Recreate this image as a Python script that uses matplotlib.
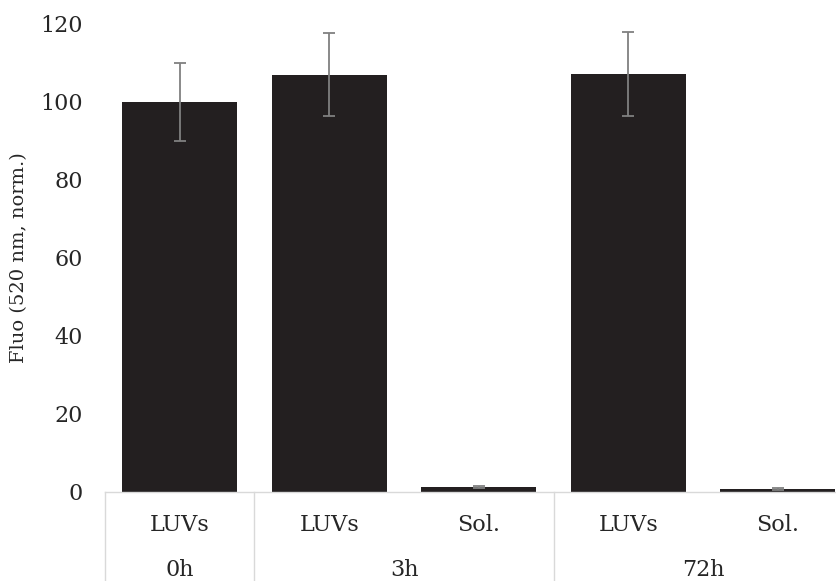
import matplotlib
matplotlib.use("Agg")
import matplotlib.pyplot as plt
import matplotlib.transforms as mtransforms

# Data
conditions = ["LUVs", "LUVs", "Sol.", "LUVs", "Sol."]
groups = ["0h", "3h", "72h"]
group_sizes = [1, 2, 2]
values = [100.0, 107.0, 1.3, 107.2, 0.8]
errors = [10.0, 10.7, 0.3, 10.7, 0.2]
yticks = [0, 20, 40, 60, 80, 100, 120]

plt.rcParams['font.family'] = ['DejaVu Serif']
FS = 16
W, H = 837, 581
fig = plt.figure(figsize=(W / 100, H / 100), dpi=100)
left_px, right_px = 105, 852.5
bottom_px, top_px = 492, 24
ax = fig.add_axes([left_px / W, (H - bottom_px) / H,
                   (right_px - left_px) / W, (bottom_px - top_px) / H])

x = list(range(len(values)))
ax.bar(x, values, width=0.77, color="#231F20", zorder=2)
ax.errorbar(x, values, yerr=errors, fmt="none", ecolor="#808080",
            elinewidth=1.3, capsize=4.5, capthick=1.3, zorder=3)

ax.set_xlim(-0.5, len(values) - 0.5)
ax.set_ylim(0, 120)
ax.set_yticks(yticks)
ax.set_yticklabels([str(t) for t in yticks], fontsize=FS, color="#262626")
ax.tick_params(axis="y", length=0, pad=16)
ax.set_xticks([])
for s in ["left", "right", "top"]:
    ax.spines[s].set_visible(False)
ax.spines["bottom"].set_color("#D9D9D9")
ax.spines["bottom"].set_linewidth(1.0)
ax.set_ylabel("Fluo (520 nm, norm.)", fontsize=14, color="#262626", labelpad=9)

# Category table beneath the axis
trans = mtransforms.blended_transform_factory(ax.transData, fig.transFigure)
bounds = [-0.5]
for g in group_sizes:
    bounds.append(bounds[-1] + g)
for b in bounds:
    ax.plot([b, b], [(H - bottom_px) / H, -0.05], transform=trans,
            color="#D9D9D9", lw=1.0, clip_on=False)
row1_y = (H - 525) / H
row2_y = (H - 570) / H
for xi, c in zip(x, conditions):
    ax.text(xi, row1_y, c, transform=trans, ha="center", va="center",
            fontsize=FS, color="#262626")
for i, g in enumerate(groups):
    cx = (bounds[i] + bounds[i + 1]) / 2
    ax.text(cx, row2_y, g, transform=trans, ha="center", va="center",
            fontsize=FS, color="#262626")

fig.savefig("out.png", dpi=100)
